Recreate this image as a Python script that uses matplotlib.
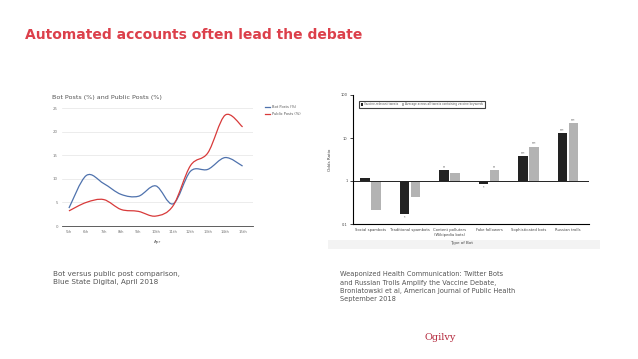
import numpy as np
import matplotlib.pyplot as plt
from matplotlib.path import Path
from matplotlib.patches import PathPatch, Rectangle
from matplotlib.lines import Line2D

W, H = 638, 359

# left chart: Blue State Digital, April 2018
days = ["5th", "6th", "7th", "8th", "9th", "10th", "11th", "12th", "13th", "14th", "15th"]
bot_posts = [3.8, 10.7, 9.0, 6.7, 6.3, 8.5, 4.7, 11.6, 12.0, 14.5, 12.7]
public_posts = [3.2, 5.0, 5.6, 3.5, 3.1, 2.1, 4.3, 12.8, 15.5, 23.5, 21.0]
left_yticks = [0, 5, 10, 15, 20, 25]

# right chart: Broniatowski et al. odds ratios
bot_types = ["Social spambots", "Traditional spambots", "Content polluters\n(Wikipedia bots)",
             "Fake followers", "Sophisticated bots", "Russian trolls"]
vaccine_or = [1.17, 0.17, 1.8, 0.85, 3.8, 13.0]
average_or = [0.21, 0.42, 1.5, 1.8, 6.2, 22.0]
vaccine_sig = ["", "*", "**", "*", "***", "***"]
average_sig = ["", "", "", "**", "***", "***"]
right_yticks = [0.1, 1, 10, 100]
right_ylabels = ["0.1", "1", "10", "100"]

RED = "#dc404b"
BLUE = "#4f72ad"
LRED = "#d83a3a"


def px_axes(fig, x0, y0, x1, y1):
    # pixel box (top-left origin) -> figure axes
    return fig.add_axes([x0 / W, 1 - y1 / H, (x1 - x0) / W, (y1 - y0) / H])


def smooth_path(xs, ys):
    pts = np.column_stack([xs, ys]).astype(float)
    n = len(pts)
    verts = [pts[0]]
    codes = [Path.MOVETO]
    for i in range(n - 1):
        p0 = pts[i - 1] if i > 0 else pts[i]
        p1 = pts[i]
        p2 = pts[i + 1]
        p3 = pts[i + 2] if i + 2 < n else pts[i + 1]
        verts += [p1 + (p2 - p0) / 6, p2 - (p3 - p1) / 6, p2]
        codes += [Path.CURVE4] * 3
    return Path(verts, codes)


fig = plt.figure(figsize=(W / 100, H / 100), dpi=100)
fig.patch.set_facecolor("white")

fig.text(25 / W, 1 - 35 / H, "Automated accounts often lead the debate", color=RED,
         fontsize=10.0, fontweight="bold", va="center", ha="left")

# ---------------- left line chart ----------------
ax1 = px_axes(fig, 62, 108, 253, 226)
x = np.arange(len(days))
ax1.add_patch(PathPatch(smooth_path(x, bot_posts), fill=False, edgecolor=BLUE, lw=0.9))
ax1.add_patch(PathPatch(smooth_path(x, public_posts), fill=False, edgecolor=LRED, lw=0.9))
ax1.set_xlim(-0.4, 10.6)
ax1.set_ylim(0, 25)
ax1.set_yticks(left_yticks)
ax1.set_xticks(x)
ax1.set_xticklabels(days)
ax1.tick_params(length=0, labelsize=2.8, labelcolor="#777777", pad=3)
for s in ["top", "right", "left"]:
    ax1.spines[s].set_visible(False)
ax1.spines["bottom"].set_color("#444444")
ax1.spines["bottom"].set_linewidth(0.6)
ax1.grid(axis="y", color="#e4e4e4", lw=0.5)
ax1.set_axisbelow(True)
ax1.set_xlabel("Apr", fontsize=3, color="#555555", labelpad=4)
fig.text(52 / W, 1 - 98 / H, "Bot Posts (%) and Public Posts (%)", fontsize=4.6,
         color="#555555", va="center")
handles = [Line2D([], [], color=BLUE, lw=0.9), Line2D([], [], color=LRED, lw=0.9)]
fig.legend(handles, ["Bot Posts (%)", "Public Posts (%)"], loc="upper left",
           bbox_to_anchor=(262 / W, 1 - 102 / H), frameon=False, fontsize=2.6,
           handlelength=1.2, labelspacing=0.9, labelcolor="#555555")

# ---------------- right bar chart ----------------
ax2 = px_axes(fig, 353, 95, 589, 224)
pos = np.arange(len(bot_types))
bw = 0.24
off = 0.14
b1 = ax2.bar(pos - off, np.array(vaccine_or) - 1, bw, bottom=1, color="#222222",
             label="Vaccine-relevant tweets")
b2 = ax2.bar(pos + off, np.array(average_or) - 1, bw, bottom=1, color="#b3b3b3",
             label="Average across all tweets containing vaccine keywords")
ax2.set_yscale("log")
ax2.set_ylim(0.1, 100)
ax2.set_xlim(-0.44, 5.53)
ax2.set_yticks(right_yticks)
ax2.set_yticklabels(right_ylabels)
ax2.minorticks_off()
ax2.set_xticks(pos)
ax2.set_xticklabels(bot_types)
ax2.tick_params(axis="x", length=0, labelsize=2.7, labelcolor="#444444", pad=3)
ax2.tick_params(axis="y", length=2, width=0.5, labelsize=2.6, labelcolor="#444444", pad=2)
ax2.axhline(1, color="#222222", lw=0.7)
ax2.spines["top"].set_visible(False)
ax2.spines["right"].set_visible(False)
ax2.spines["left"].set_linewidth(0.8)
ax2.spines["bottom"].set_linewidth(0.8)
for bars, vals, sig in [(b1, vaccine_or, vaccine_sig), (b2, average_or, average_sig)]:
    for r, v, s in zip(bars, vals, sig):
        if not s:
            continue
        cx = r.get_x() + r.get_width() / 2
        if v >= 1:
            ax2.text(cx, v * 1.06, s, ha="center", va="bottom", fontsize=2.2, color="#444444")
        else:
            ax2.text(cx, v * 0.94, s, ha="center", va="top", fontsize=2.2, color="#444444")
ax2.set_ylabel("Odds Ratio", fontsize=3, color="#444444", labelpad=6)
leg = ax2.legend(loc="upper left", bbox_to_anchor=(0.02, 0.965), ncol=2, fontsize=2.1,
                 frameon=True, fancybox=False, handlelength=0.8, handleheight=0.8,
                 columnspacing=1.2, borderpad=0.5, handletextpad=0.4, labelcolor="#555555")
leg.get_frame().set_edgecolor("#111111")
leg.get_frame().set_linewidth(0.8)

fig.patches.append(Rectangle((328 / W, 1 - 249 / H), 272 / W, 9 / H, transform=fig.transFigure,
                             facecolor="#f3f3f3", edgecolor="none", zorder=0))
fig.text(462 / W, 1 - 243 / H, "Type of Bot", fontsize=3, color="#444444", ha="center", va="center")

# ---------------- captions ----------------
fig.text(53 / W, 1 - 271 / H, "Bot versus public post comparison,\nBlue State Digital, April 2018",
         fontsize=5.2, color="#555555", va="top", linespacing=1.45)
fig.text(340 / W, 1 - 271 / H,
         "Weaponized Health Communication: Twitter Bots\nand Russian Trolls Amplify the Vaccine Debate,\n"
         "Broniatowski et al, American Journal of Public Health\nSeptember 2018",
         fontsize=4.8, color="#555555", va="top", linespacing=1.5)
fig.text(440 / W, 1 - 338 / H, "Ogilvy", fontsize=7, color="#b3263a", family="DejaVu Serif",
         ha="center", va="center")

fig.savefig("out.png", dpi=100)
